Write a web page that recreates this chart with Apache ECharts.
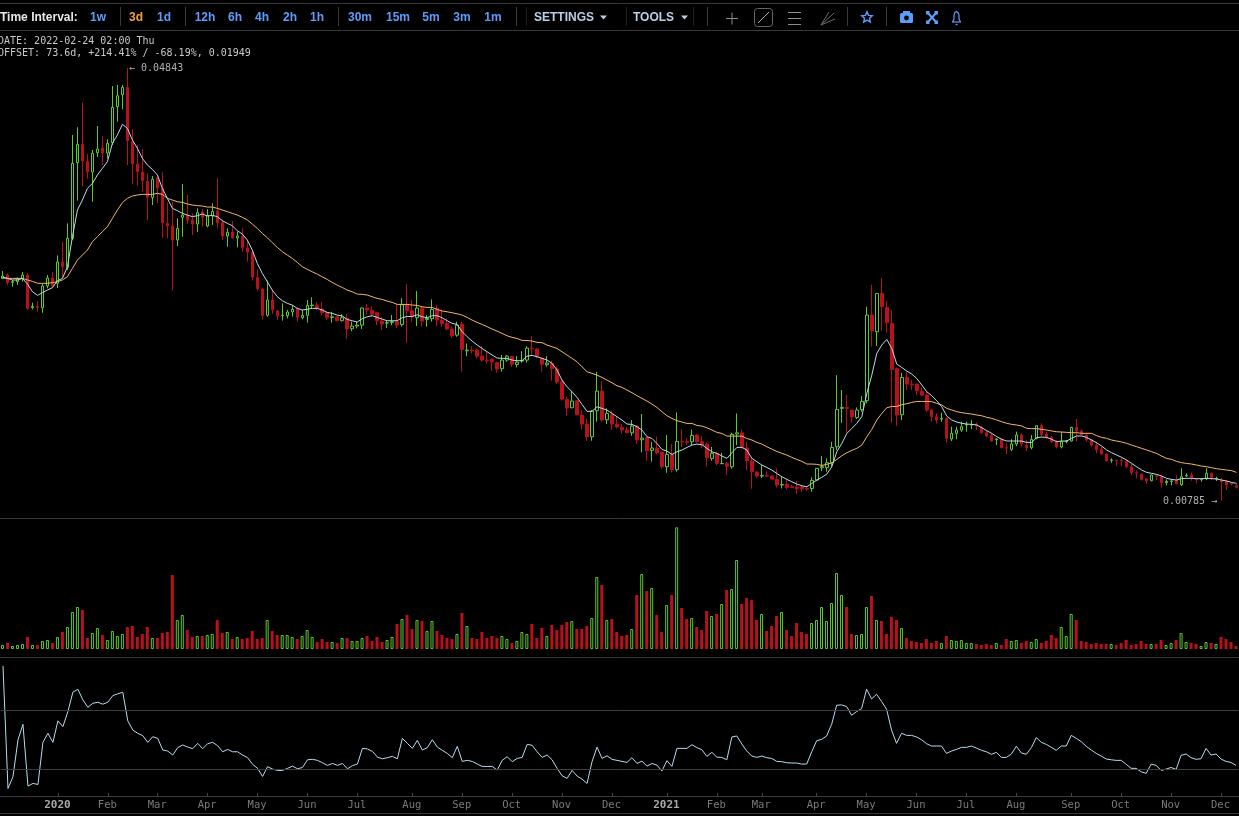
<!DOCTYPE html>
<html><head><meta charset="utf-8">
<style>html,body{margin:0;padding:0;background:#000;overflow:hidden}#c{width:1239px;height:816px}</style>
<script src="https://cdn.jsdelivr.net/npm/echarts@6/dist/echarts.min.js"></script>
</head><body><div id="c"></div>
<script>
const ohlc=[
[2870,2892,2870,2939],[2902,2830,2808,2917],[2833,2839,2792,2855],[2839,2867,2808,2880],[2870,2902,2839,2930],[2902,2589,2574,2917],[2595,2608,2580,2642],[2608,2598,2558,2652],[2595,2799,2548,2817],[2799,2874,2777,2902],
[2874,2799,2786,2930],[2824,3024,2780,3086],[3024,2980,2870,3214],[2974,3246,2949,3386],[3246,3949,3230,4215],[3955,4127,3599,4287],[4127,3971,3730,4518],[3968,3871,3805,4036],[3868,4043,3589,4074],[4049,4083,4008,4299],
[4093,4046,3933,4205],[4046,4137,3993,4174],[4143,4474,4121,4674],[4480,4583,4340,4684],[4593,4662,4455,4684],[4662,4162,3933,4843],[4152,3946,3755,4271],[3943,3871,3739,4121],[3868,3786,3683,4083],[3780,3630,3418,3855],
[3630,3799,3558,3830],[3815,3718,3574,3824],[3714,3393,3252,3865],[3386,3364,3246,3580],[3361,3230,2755,3589],[3230,3339,3174,3433],[3443,3464,3261,3755],[3464,3418,3380,3652],[3418,3380,3277,3480],[3380,3486,3305,3527],
[3493,3443,3355,3518],[3361,3461,3349,3518],[3455,3499,3371,3574],[3502,3393,3339,3811],[3393,3267,3230,3424],[3267,3302,3167,3339],[3305,3249,3246,3408],[3249,3267,3161,3308],[3267,3158,3121,3339],[3155,3117,3027,3214],
[3117,2883,2849,3121],[2880,2774,2755,2955],[2770,2523,2486,2786],[2523,2667,2511,2849],[2667,2577,2536,2761],[2564,2520,2480,2574],[2520,2523,2474,2636],[2520,2555,2495,2574],[2555,2580,2511,2620],[2589,2505,2464,2598],
[2502,2523,2486,2574],[2523,2617,2455,2667],[2614,2620,2589,2692],[2620,2589,2573,2648],[2582,2548,2526,2648],[2548,2501,2479,2557],[2504,2510,2454,2557],[2510,2473,2467,2517],[2473,2501,2467,2535],[2495,2395,2301,2535],
[2398,2423,2376,2464],[2423,2432,2401,2464],[2432,2592,2395,2598],[2592,2573,2532,2629],[2570,2535,2510,2610],[2548,2473,2432,2557],[2470,2442,2385,2510],[2451,2454,2404,2479],[2457,2464,2432,2526],[2464,2432,2404,2623],
[2438,2623,2417,2685],[2623,2567,2266,2817],[2567,2510,2464,2667],[2501,2592,2423,2751],[2592,2470,2417,2610],[2485,2495,2417,2526],[2492,2579,2464,2673],[2589,2479,2423,2620],[2479,2448,2417,2579],[2448,2395,2385,2495],
[2395,2332,2313,2417],[2338,2432,2323,2464],[2442,2204,1995,2464],[2191,2198,2141,2260],[2198,2191,2166,2235],[2198,2141,2120,2213],[2141,2104,2088,2235],[2104,2098,2073,2182],[2110,2088,2001,2120],[2082,2020,1985,2088],
[2023,2104,1995,2151],[2104,2141,2088,2151],[2138,2066,2041,2141],[2063,2085,2035,2141],[2095,2101,2079,2188],[2104,2216,2079,2235],[2216,2210,2145,2329],[2207,2135,2120,2216],[2120,2066,1995,2129],[2060,2076,2041,2141],
[2073,2023,1910,2098],[2020,1898,1879,2041],[1901,1738,1723,1916],[1735,1654,1582,1760],[1657,1720,1651,1816],[1723,1591,1588,1729],[1588,1504,1454,1635],[1504,1385,1347,1551],[1385,1626,1347,1635],[1629,1813,1526,1995],
[1813,1541,1526,1907],[1544,1604,1504,1651],[1594,1504,1448,1629],[1504,1476,1463,1573],[1473,1448,1416,1504],[1448,1422,1416,1479],[1422,1485,1394,1541],[1485,1354,1316,1494],[1357,1372,1238,1598],[1376,1254,1160,1376],
[1257,1279,1151,1338],[1279,1235,1222,1385],[1241,1104,1082,1244],[1104,1219,1047,1401],[1219,1079,1050,1316],[1076,1341,1057,1613],[1341,1338,1291,1457],[1338,1332,1307,1369],[1338,1397,1307,1454],[1401,1338,1329,1410],
[1338,1307,1276,1391],[1316,1188,1104,1329],[1182,1229,1160,1291],[1229,1135,1119,1244],[1132,1135,1129,1235],[1135,1107,1026,1151],[1104,1407,1085,1422],[1410,1422,1307,1604],[1422,1285,1276,1454],[1279,1160,1072,1338],
[1157,1057,897,1182],[1054,1016,1000,1063],[1016,1022,997,1119],[1022,1016,1004,1057],[1016,988,979,1026],[985,932,910,1088],[932,938,900,1010],[941,910,894,994],[916,910,904,932],[913,897,850,972],
[913,897,869,932],[900,894,875,916],[900,975,869,1004],[979,1088,972,1088],[1094,1104,1063,1204],[1097,1141,1057,1182],[1141,1285,1104,1338],[1291,1641,1260,1963],[1651,1660,1516,1823],[1660,1651,1416,1776],
[1635,1570,1516,1635],[1566,1635,1551,1660],[1641,1716,1619,1766],[1723,2526,1698,2604],[2526,2379,2229,2810],[2370,2729,2235,2729],[2729,2604,2379,2873],[2598,2454,2360,2657],[2448,2016,1516,2573],[2023,1588,1488,2035],
[1591,1941,1541,1985],[1941,1879,1823,1991],[1879,1873,1823,1916],[1879,1816,1776,1885],[1810,1776,1766,1848],[1776,1635,1619,1816],[1636,1573,1526,1642],[1573,1542,1511,1604],[1551,1557,1526,1611],[1557,1370,1329,1567],
[1364,1417,1345,1479],[1417,1448,1361,1479],[1448,1479,1432,1526],[1495,1501,1432,1526],[1495,1501,1457,1542],[1504,1489,1448,1517],[1473,1423,1417,1486],[1423,1392,1379,1448],[1395,1345,1339,1417],[1357,1364,1307,1370],
[1364,1282,1276,1370],[1282,1279,1223,1323],[1267,1317,1251,1361],[1317,1401,1298,1432],[1401,1317,1292,1417],[1304,1282,1251,1354],[1282,1361,1267,1401],[1370,1489,1361,1495],[1489,1407,1386,1511],[1411,1379,1361,1432],
[1379,1339,1323,1392],[1339,1289,1276,1354],[1289,1339,1276,1432],[1339,1345,1323,1354],[1345,1473,1339,1479],[1473,1439,1339,1551],[1439,1407,1395,1454],[1401,1357,1339,1423],[1357,1307,1292,1361],[1307,1261,1229,1339],
[1267,1223,1214,1292],[1223,1160,1151,1229],[1164,1167,1142,1182],[1164,1160,1110,1167],[1164,1160,1110,1192],[1154,1104,1089,1167],[1101,1048,1026,1129],[1048,1045,995,1067],[1032,985,973,1042],[989,970,942,995],
[973,1026,967,1032],[1020,1014,979,1032],[1010,954,907,1026],[954,967,929,985],[967,970,929,989],[979,945,939,1026],[935,1010,923,1089],[1017,1020,1010,1042],[1026,1001,973,1048],[989,985,948,995],
[982,985,964,992],[992,1042,979,1089],[1042,995,979,1048],[989,995,970,1010],[979,964,785,1001],[964,932,885,979],[948,942,929,954],[926,910,901,948]
];
const maFast=[2883,2870,2855,2855,2870,2817,2745,2711,2736,2761,2783,2849,2870,2980,3261,3511,3605,3714,3761,3840,3902,3965,4137,4215,4315,4277,4168,4090,3996,3933,3893,3840,3714,3621,3527,3505,3480,3464,3449,3458,3474,3455,3461,3449,3411,3386,3364,3317,3286,3230,3136,3011,2917,2839,2761,2699,2661,2636,2620,2589,2574,2580,
2589,2589,2573,2551,2542,2526,2517,2485,2473,2460,2492,2510,2520,2504,2488,2473,2473,2473,2501,2513,2513,2529,2510,2501,2520,2520,2501,2473,2448,2438,2370,2323,2282,2245,2213,2182,2151,2123,2120,2120,2104,2098,2098,2141,2148,2135,2120,2104,2073,2010,1916,1854,1807,1754,1688,1623,1623,1666,1651,1635,1604,1573,
1541,1504,1501,1479,1448,1385,1369,1322,1266,1251,1219,1244,1260,1285,1307,1316,1310,1276,1244,1229,1204,1182,1235,1285,1285,1260,1182,1151,1119,1097,1072,1041,1010,985,963,941,925,916,947,979,1004,1035,1104,1244,1322,1416,1463,1510,1573,1791,1963,2167,2245,2298,2213,2066,2035,2001,1973,1932,1870,1807,
1770,1723,1667,1579,1542,1523,1511,1504,1501,1495,1470,1442,1417,1386,1361,1345,1345,1345,1345,1332,1332,1376,1382,1379,1361,1339,1345,1345,1370,1392,1392,1379,1354,1329,1298,1261,1235,1214,1192,1167,1135,1104,1073,1051,1042,1032,1017,995,985,979,992,995,995,992,992,995,992,989,979,970,957,948];
const maSlow=[2877,2870,2870,2870,2870,2855,2842,2824,2824,2824,2830,2839,2855,2886,2964,3042,3089,3136,3214,3261,3308,3355,3433,3511,3580,3621,3643,3652,3658,3658,3658,3668,3658,3621,3605,3589,3583,3568,3558,3552,3549,3539,3539,3527,3511,3496,3480,3464,3443,3418,3380,3339,3292,3252,3205,3161,3121,3089,3058,3021,2980,2955,
2932,2910,2885,2860,2832,2807,2785,2760,2745,2723,2720,2714,2698,2682,2673,2657,2645,2626,2626,2626,2620,2617,2604,2598,2598,2579,2564,2557,2548,2538,2526,2504,2479,2457,2438,2417,2395,2376,2354,2332,2317,2307,2288,2288,2282,2270,2267,2245,2229,2213,2182,2151,2120,2088,2041,1995,1979,1963,1941,1916,1891,1863,
1848,1823,1798,1770,1745,1720,1691,1660,1619,1582,1557,1535,1523,1510,1510,1491,1485,1469,1448,1426,1416,1391,1391,1391,1391,1369,1354,1332,1316,1291,1269,1247,1229,1213,1191,1172,1154,1129,1129,1126,1116,1126,1141,1172,1207,1235,1257,1276,1307,1385,1454,1541,1604,1657,1669,1669,1685,1695,1707,1716,1716,1716,
1714,1698,1683,1651,1636,1620,1611,1604,1598,1589,1582,1567,1557,1542,1526,1511,1501,1495,1486,1464,1461,1461,1454,1448,1439,1432,1429,1426,1423,1423,1417,1417,1417,1395,1379,1370,1354,1345,1336,1323,1307,1292,1276,1261,1245,1229,1204,1182,1173,1154,1142,1135,1129,1120,1110,1104,1095,1085,1079,1073,1067,1051];
const volume=[12,18,9,12,15,36,12,12,24,27,18,36,51,66,111,126,117,33,48,63,42,27,54,39,45,66,69,36,45,66,33,33,48,51,222,87,102,57,36,39,39,42,45,87,48,51,30,36,30,33,54,30,33,87,54,42,42,42,36,30,39,57,36,21,30,21,21,18,33,33,24,24,33,39,24,36,21,27,36,75,90,102,60,87,84,54,84,54,42,33,30,45,108,69,33,30,51,33,39,33,39,30,18,24,51,45,75,33,63,39,72,57,72,81,84,60,60,69,93,216,192,87,90,51,
39,42,60,162,225,174,183,102,51,132,162,365,123,90,93,66,57,114,99,105,135,177,180,267,135,153,147,87,105,54,69,99,111,57,39,78,51,45,78,87,126,84,138,228,162,126,45,42,45,126,159,87,84,45,96,87,63,33,24,21,18,30,18,24,18,39,27,24,27,18,18,15,12,15,12,18,12,30,24,27,18,24,21,30,18,24,42,33,66,39,105,87,24,21,15,18,15,15,15,12,18,27,12,15,24,15,15,15,27,12,18,27,48,21,18,15,9,21,18,15,36,30,21,9];
const oscillator=[100,17.1,25.0,49.9,60.5,18.7,20.5,19.8,48.3,54.4,48.3,62.8,58.9,69.1,82.2,84.2,77.0,72.0,74.7,75.4,74.1,75.4,79.9,81.1,82.2,62.8,56.6,54.4,52.8,48.3,52.1,51.0,43.1,42.4,39.7,44.7,46.5,45.1,44.0,47.6,44.0,47.4,48.3,46.0,41.9,43.5,41.9,41.9,39.7,37.9,33.4,30.7,25.2,31.8,30.2,29.3,29.3,30.7,32.2,30.4,31.3,36.5,36.8,36.1,34.5,32.7,34.0,32.7,34.0,30.4,32.5,33.6,44.2,43.8,42.2,38.3,37.2,37.9,38.8,37.2,51.0,47.6,44.2,49.6,43.1,44.7,50.1,45.1,42.9,40.8,37.9,45.6,35.4,36.1,35.4,33.6,32.0,32.0,32.0,29.5,36.1,38.6,35.2,37.4,38.1,46.9,46.3,41.9,38.1,39.7,36.5,30.7,25.7,23.9,29.3,25.5,23.4,20.5,35.2,45.1,37.4,39.2,36.8,36.1,
35.4,34.7,37.9,34.0,35.6,32.2,34.0,32.9,28.9,35.9,32.0,44.2,44.2,44.2,46.7,44.7,43.3,38.8,41.5,38.3,38.1,36.5,51.9,52.6,47.2,42.4,39.0,38.1,39.0,37.9,37.4,35.4,35.2,34.5,34.3,34.3,33.6,33.6,41.9,49.4,50.3,52.6,60.5,73.4,73.6,72.5,66.6,69.1,71.1,84.2,77.7,80.8,75.9,70.7,56.6,47.6,54.4,53.0,53.0,51.9,50.1,47.4,45.8,45.8,45.8,40.8,42.4,43.5,44.9,44.9,45.8,44.4,42.9,41.9,40.2,41.5,38.1,38.1,40.4,45.6,41.1,40.2,44.7,51.5,48.3,46.9,44.9,42.9,45.8,45.8,53.0,51.0,48.7,45.6,43.1,40.8,39.0,37.0,36.5,36.1,36.1,33.4,30.7,30.7,28.4,27.3,33.6,32.7,29.3,30.2,31.3,30.0,39.5,40.4,37.9,36.8,37.2,44.2,39.7,40.4,37.0,35.4,34.7,32.7];
const tickIndex=[11,21,31,41,51,61,71,82,92,102,112,122,133,143,152,163,173,183,193,203,214,224,234,244];
const tickLabels=['2020','Feb','Mar','Apr','May','Jun','Jul','Aug','Sep','Oct','Nov','Dec','2021','Feb','Mar','Apr','May','Jun','Jul','Aug','Sep','Oct','Nov','Dec'];
const intervals=[['1w',98,'b'],['3d',136,'o'],['1d',164,'b'],['12h',205,'b'],['6h',235,'b'],['4h',262,'b'],['2h',290,'b'],['1h',317,'b'],['30m',360,'b'],['15m',398,'b'],['5m',431,'b'],['3m',462,'b'],['1m',493,'b']];

const GREEN='#5cc92c',RED='#b8101c',BLUE='#b6dcf0',ORANGE='#f4b768',SEP='#3a3a3a',LINKBLUE='#5c9dfb';
const P=v=>v/1e5;
const categories=ohlc.map((_,i)=>{const d=new Date(Date.UTC(2019,10,29)+i*3*864e5);return d.toISOString().slice(0,10);});
const labelAt=new Map(tickIndex.map((t,i)=>[t,tickLabels[i]]));
const isUp=r=>r[1]>=r[0];

const MONO='"DejaVu Sans Mono",monospace',SANS='"Liberation Sans",Arial,sans-serif';
const T=(x,y,text,fill,font,extra)=>({type:'text',x,y,silent:true,style:Object.assign({text,fill,font,textVerticalAlign:'middle',textAlign:'left'},extra||{})});
const L=(x1,y1,x2,y2,stroke,lw)=>({type:'line',silent:true,shape:{x1,y1,x2,y2},style:{stroke,lineWidth:lw||1}});
const hr=y=>L(0,y+.5,1239,y+.5,SEP);
const vr=(x,c)=>L(x+.5,7,x+.5,26,c||'#3a3a3a');
const caret=x=>({type:'polygon',silent:true,shape:{points:[[x,15.5],[x+7,15.5],[x+3.5,19.5]]},style:{fill:'#bcd0e0'}});
const ICON='#8c8c8c';
const graphics=[
 hr(3),hr(30),hr(518),hr(657),hr(796),hr(813),
 T(0,18,'Time Interval:','#e8e8e8','bold 12px '+SANS),
 ...intervals.map(a=>T(a[1],18,a[0],a[2]==='o'?'#f0a040':LINKBLUE,'bold 12px '+SANS,{textAlign:'center'})),
 vr(120),vr(185),vr(338),vr(516),vr(526,'#1f1f1f'),vr(626,'#1f1f1f'),vr(693,'#1f1f1f'),vr(707),vr(847),vr(886),
 T(534,18,'SETTINGS','#b8d0e4','bold 12px '+SANS),caret(600),
 T(633,18,'TOOLS','#b8d0e4','bold 12px '+SANS),caret(681),
 L(726,18.5,738,18.5,ICON),L(732,12.5,732,24.5,ICON),
 {type:'rect',silent:true,shape:{x:754.5,y:8.5,width:18,height:18,r:3},style:{stroke:'#666',fill:'none'}},
 L(758,23,769,12,'#b0b0b0'),
 L(788,12.5,801,12.5,ICON),L(788,18.5,801,18.5,ICON),L(788,24.5,801,24.5,ICON),
 L(821,25,834,13,'#6a6a6a'),L(821,25,835,19,'#6a6a6a'),L(821,25,829,12,'#6a6a6a'),
 {type:'polygon',silent:true,shape:{points:[[867,11.9],[868.5,15.4],[872.3,15.8],[869.5,18.3],[870.3,22],[867,20.1],[863.7,22],[864.5,18.3],[861.7,15.8],[865.5,15.4]]},style:{stroke:LINKBLUE,lineWidth:1.4,fill:'none'}},
 {type:'rect',silent:true,shape:{x:900,y:13,width:13,height:10,r:1.5},style:{fill:LINKBLUE}},
 {type:'rect',silent:true,shape:{x:903,y:11,width:7,height:3},style:{fill:LINKBLUE}},
 {type:'circle',silent:true,shape:{cx:906.5,cy:18,r:2.4},style:{fill:'#000'}},
 L(927,12,937,23,LINKBLUE,2),L(937,12,927,23,LINKBLUE,2),
 ...[[926,11],[934.5,11],[926,20.5],[934.5,20.5]].map(p=>({type:'rect',silent:true,shape:{x:p[0],y:p[1],width:3.5,height:3.5},style:{fill:LINKBLUE}})),
 L(952,22,961,22,LINKBLUE,1.2),L(955.5,24.5,957.5,24.5,LINKBLUE,1.2),
 {type:'polyline',silent:true,shape:{points:[[952.5,22],[954,19],[954,15],[955,12.5],[956.5,11.5],[958,12.5],[959,15],[959,19],[960.5,22]]},style:{stroke:LINKBLUE,fill:'none',lineWidth:1.2}},
 T(-2,41,'DATE: 2022-02-24 02:00 Thu','#c8c8c8','10px '+MONO),
 T(-2,53,'OFFSET: 73.6d, +214.41% / -68.19%, 0.01949','#c8c8c8','10px '+MONO),
 T(129,68,'\u2190 0.04843','#b0b0b0','10px '+MONO),
 T(1163,501,'0.00785 \u2192','#b0b0b0','10px '+MONO)
];

const chart=echarts.init(document.getElementById('c'),null,{renderer:'canvas'});
chart.setOption({
 animation:false,backgroundColor:'#000',tooltip:{show:false},
 grid:[
  {left:-1,width:1240,top:31,height:487},
  {left:-1.5,width:1240,top:518,height:131},
  {left:-1,width:1240,top:657,height:139}
 ],
 xAxis:[
  {type:'category',gridIndex:0,data:categories,show:false},
  {type:'category',gridIndex:1,data:categories,show:false},
  {type:'category',gridIndex:2,data:categories,
   axisLine:{show:false},
   axisTick:{show:true,length:3,inside:true,alignWithLabel:true,interval:(i)=>labelAt.has(i),lineStyle:{color:'#444'}},
   axisLabel:{show:true,interval:0,hideOverlap:false,margin:4,padding:[0,1,0,0],fontFamily:MONO,fontSize:10.5,
     formatter:(v,i)=>{const s=labelAt.get(i);if(!s)return '';return /^\d/.test(s)?'{y|'+s+'}':'{m|'+s+'}';},
     rich:{y:{color:'#a8a8a8',fontWeight:'bold',fontFamily:MONO,fontSize:11},m:{color:'#7a7a7a',fontFamily:MONO,fontSize:10.5}}}}
 ],
 yAxis:[
  {type:'value',gridIndex:0,min:P(623),max:P(5190),show:false,scale:true},
  {type:'value',gridIndex:1,min:0,max:393,show:false},
  {type:'value',gridIndex:2,min:12,max:106,show:false}
 ],
 series:[
  {type:'candlestick',xAxisIndex:0,yAxisIndex:0,barWidth:3,
   data:ohlc.map(r=>r.map(P)),
   itemStyle:{color:'#000',color0:RED,borderColor:GREEN,borderColor0:RED,borderColorDoji:RED,borderWidth:1}},
  {type:'line',xAxisIndex:0,yAxisIndex:0,data:maSlow.map(P),showSymbol:false,symbol:'none',lineStyle:{color:ORANGE,width:1}},
  {type:'line',xAxisIndex:0,yAxisIndex:0,data:maFast.map(P),showSymbol:false,symbol:'none',lineStyle:{color:BLUE,width:1}},
  {type:'bar',xAxisIndex:1,yAxisIndex:1,barWidth:3,
   data:volume.map((v,i)=>({value:v,itemStyle:isUp(ohlc[i])?{color:'#000',borderColor:GREEN,borderWidth:1}:{color:RED,borderColor:RED,borderWidth:0}}))},
  {type:'line',xAxisIndex:2,yAxisIndex:2,data:oscillator,showSymbol:false,symbol:'none',lineStyle:{color:BLUE,width:1},
   markLine:{silent:true,symbol:'none',label:{show:false},lineStyle:{color:'#3f3f3f',width:1,type:'solid'},data:[{yAxis:30},{yAxis:70}]}}
 ],
 graphic:graphics
});
</script></body></html>
